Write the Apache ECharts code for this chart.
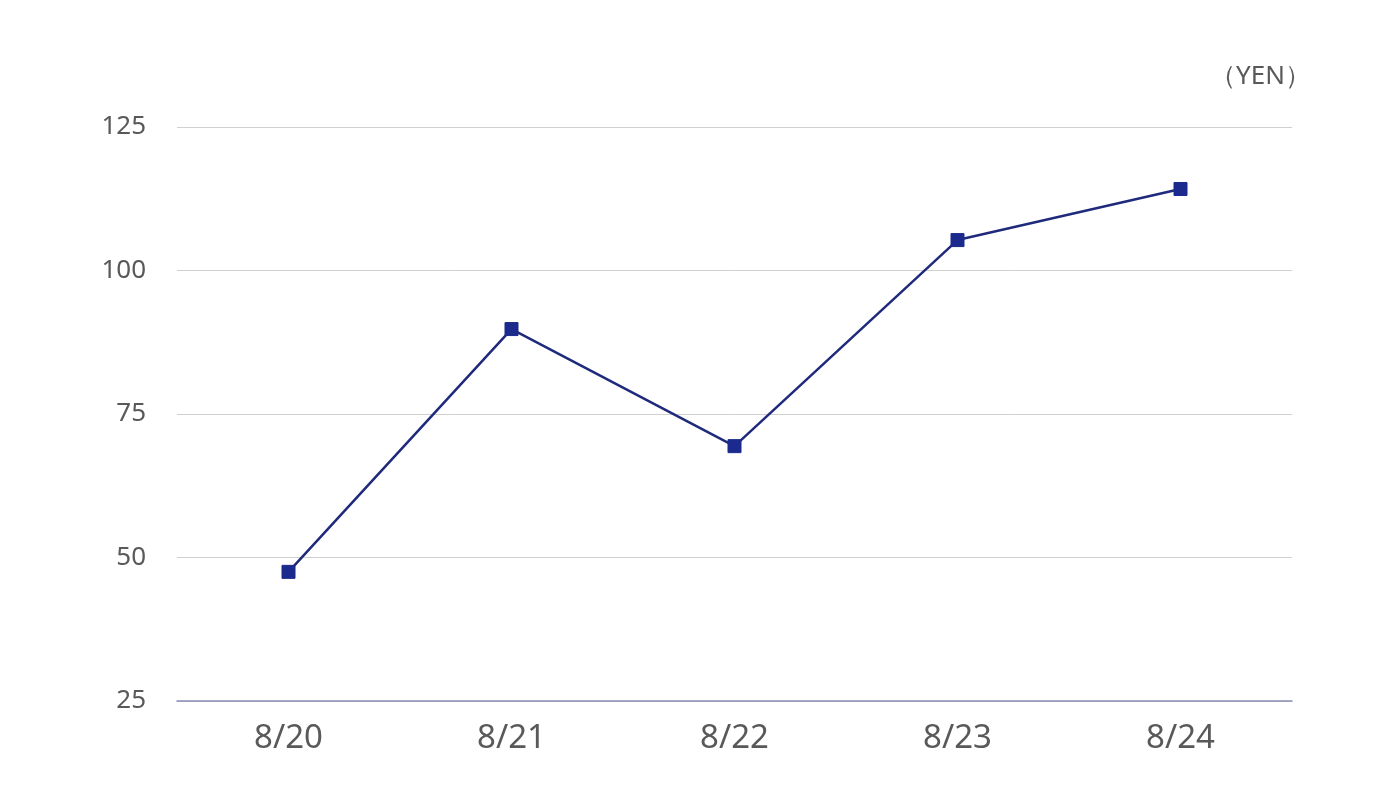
<!DOCTYPE html>
<html><head><meta charset="utf-8">
<script src="https://cdn.jsdelivr.net/npm/echarts@6/dist/echarts.min.js"></script>
<style>html,body{margin:0;padding:0;background:#fff}#c{width:1399px;height:794px}</style>
</head><body><div id="c"></div>
<script>
const categories = ['8/20','8/21','8/22','8/23','8/24'];
const prices = [47.5, 89.8, 69.4, 105.3, 114.2];
const yTicks = [25, 50, 75, 100, 125];
const unitLabel = '（YEN）';

const chart = echarts.init(document.getElementById('c'), null, {renderer:'canvas'});
chart.setOption({
  animation:false,
  backgroundColor:'#fff',
  grid:{left:177,right:107,top:127,bottom:93,containLabel:false},
  graphic:[{type:'text',right:88,top:64,style:{text:unitLabel,font:'26px "Noto Sans", sans-serif',fill:'#595959'}}],
  xAxis:{type:'category',data:categories,boundaryGap:true,
    axisLine:{lineStyle:{color:'#8a8fb5',width:1.5}},axisTick:{show:false},
    axisLabel:{color:'#595959',fontSize:33,fontFamily:'"Noto Sans", sans-serif',margin:21}},
  yAxis:{type:'value',min:yTicks[0],max:yTicks[yTicks.length-1],interval:25,
    axisLine:{show:false},axisTick:{show:false},
    splitLine:{lineStyle:{color:'#d0d0d0',width:1}},
    axisLabel:{color:'#595959',fontSize:26,fontFamily:'"Noto Sans", sans-serif',margin:31}},
  series:[{type:'line',data:prices,symbol:'rect',symbolSize:13,
    lineStyle:{color:'#1f2a7c',width:2.5},
    itemStyle:{color:'#1b2a8c',borderColor:'#1b2a8c'}}]
});
</script></body></html>
